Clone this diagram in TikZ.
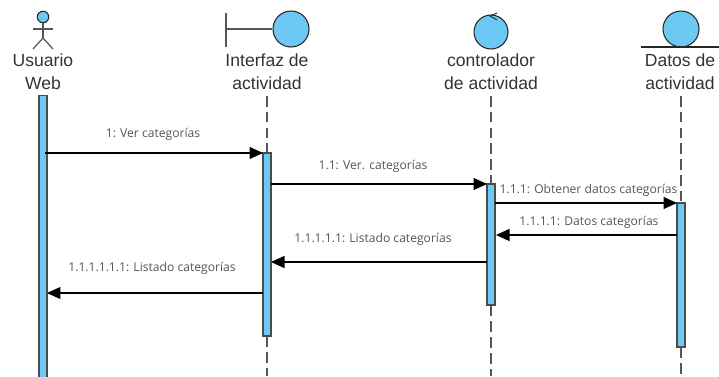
\documentclass[tikz,border=0pt]{standalone}
\usepackage{fontspec}
\setmainfont{Liberation Sans}
\newfontfamily\msgfont{Open Sans}
\usetikzlibrary{arrows.meta}
\definecolor{lifeblue}{HTML}{6DC8F4}
\definecolor{msggray}{HTML}{555555}
\tikzset{
  icon/.style={circle, draw=black!85, fill=lifeblue, line width=0.6pt, inner sep=0pt},
  bar/.style={draw=black!70, fill=lifeblue, line width=0.7pt, minimum width=0.16cm, inner sep=0pt},
  title/.style={align=center, font=\fontsize{10}{13}\selectfont, text=black!80},
  msg/.style={-{Triangle[length=0.27cm, width=0.24cm]}, line width=0.6pt},
  msgtext/.style={font=\msgfont\fontsize{6.9}{8}\selectfont, text=msggray, inner sep=0pt},
  life/.style={dashed, dash pattern=on 6pt off 3pt, msggray, line width=0.6pt},
  stroke/.style={msggray, line width=0.7pt}
}
\begin{document}
\begin{tikzpicture}[x=0.02cm, y=-0.02cm]
\useasboundingbox (0,0) rectangle (719,376);

% actor
\node[icon, minimum size=0.23cm] (U) at (43,17) {};
\coordinate (Uh) at (43,38);
\coordinate (Ua) at (33,29);
\coordinate (Ub) at (53,29);
\coordinate (Ul) at (33,49);
\coordinate (Ur) at (53,49);
\draw[stroke] (U) -- (Uh);
\draw[stroke] (Ua) -- (Ub);
\draw[stroke] (Ul) -- (Uh) -- (Ur);

% boundary
\node[icon, minimum size=0.72cm] (I) at (291,29) {};
\coordinate (It) at (226,13);
\coordinate (Im) at (226,29);
\coordinate (Ib) at (226,47);
\draw[stroke] (It) -- (Ib);
\draw[stroke] (Im) -- (I);

% control
\node[icon, minimum size=0.68cm] (C) at (491,32) {};
\coordinate (Ca) at (497,13);
\coordinate (Cm) at (490,16);
\coordinate (Cb) at (497,20);
\draw[black!85, line width=0.5pt] (Ca) -- (Cm) -- (Cb);

% entity
\node[icon, minimum size=0.72cm] (D) at (681,29) {};
\coordinate (Dl) at (641,47);
\coordinate (Dr) at (719,47);
\draw[black!85, line width=0.6pt] (Dl) -- (Dr);

\node[title] (tU) at (43,72) {Usuario\\Web};
\node[title] (tI) at (267,72) {Interfaz de\\actividad};
\node[title] (tC) at (491,72) {controlador\\de actividad};
\node[title] (tD) at (680,72) {Datos de\\actividad};

% lifelines
\coordinate (Ie) at (267,376);
\coordinate (Ce) at (491,376);
\coordinate (De) at (681,376);
\node[bar, minimum height=5.7cm] (bU) at (43,238) {};
\node[bar, minimum height=3.66cm] (bI) at (267,244.5) {};
\node[bar, minimum height=2.42cm] (bC) at (491,244.5) {};
\node[bar, minimum height=2.88cm] (bD) at (681,275) {};
\coordinate (It1) at (267,96);
\coordinate (Ct1) at (491,96);
\coordinate (Dt1) at (681,96);
\draw[life] (It1) -- (bI);
\draw[life] (Ct1) -- (bC);
\draw[life] (Dt1) -- (bD);
\draw[life] (bI) -- (Ie);
\draw[life] (bC) -- (Ce);
\draw[life] (bD) -- (De);

% messages
\coordinate (m1a) at (45,153);
\coordinate (m1b) at (263,153);
\coordinate (m2a) at (271,184);
\coordinate (m2b) at (487,184);
\coordinate (m3a) at (495,203);
\coordinate (m3b) at (677,203);
\coordinate (m4a) at (677,235);
\coordinate (m4b) at (496,235);
\coordinate (m5a) at (487,262);
\coordinate (m5b) at (271,262);
\coordinate (m6a) at (263,293);
\coordinate (m6b) at (47,293);
\draw[msg] (m1a) -- (m1b);
\draw[msg] (m2a) -- (m2b);
\draw[msg] (m3a) -- (m3b);
\draw[msg] (m4a) -- (m4b);
\draw[msg] (m5a) -- (m5b);
\draw[msg] (m6a) -- (m6b);

\node[msgtext] (l1) at (153,134.5) {1: Ver categorías};
\node[msgtext] (l2) at (373,166.5) {1.1: Ver. categorías};
\node[msgtext] (l3) at (588.5,190) {1.1.1: Obtener datos categorías};
\node[msgtext] (l4) at (589,222.5) {1.1.1.1: Datos categorías};
\node[msgtext] (l5) at (373,239.5) {1.1.1.1.1: Listado categorías};
\node[msgtext] (l6) at (152,268.5) {1.1.1.1.1.1: Listado categorías};
\end{tikzpicture}
\end{document}
